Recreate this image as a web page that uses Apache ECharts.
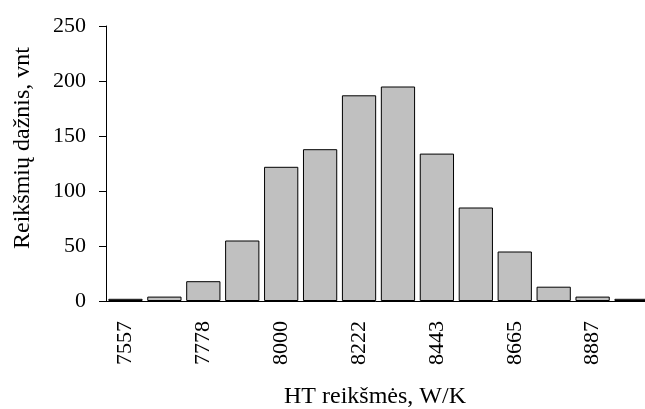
<!DOCTYPE html>
<html>
<head>
<meta charset="utf-8">
<script src="https://cdn.jsdelivr.net/npm/echarts@6/dist/echarts.min.js"></script>
<style>
  html, body { margin: 0; padding: 0; background: #fff; }
  #chart { width: 645px; height: 409px; }
</style>
</head>
<body>
<div id="chart"></div>
<script>
// histogram bins (bin centres, W/K) and counts
const bins = ['7557', '7668', '7778', '7889', '8000', '8111', '8222', '8332', '8443', '8554', '8665', '8776', '8887', '8997'];
const counts = [2, 4, 18, 55, 122, 138, 187, 195, 134, 85, 45, 13, 4, 2];
const yTicks = [0, 50, 100, 150, 200, 250];

const font = 'Liberation Serif';
let chart = echarts.init(document.getElementById('chart'));
chart.setOption({
    animation: false,
    grid: {
        left: 106,
        top: 26,
        bottom: 108,
        right: -6,
        outerBoundsMode: 'none'
    },
    xAxis: {
        type: 'category',
        data: bins,
        axisLine: { lineStyle: { color: '#000', width: 1 } },
        axisTick: { interval: 0, length: 7, lineStyle: { color: '#000' } },
        axisLabel: {
            interval: 1,
            rotate: 90,
            margin: 20,
            fontFamily: font,
            fontSize: 22,
            color: '#000'
        }
    },
    yAxis: {
        type: 'value',
        min: yTicks[0],
        max: yTicks[yTicks.length - 1],
        interval: 50,
        splitLine: { show: false },
        axisLine: { show: true, lineStyle: { color: '#000', width: 1 } },
        axisTick: { show: true, length: 7, lineStyle: { color: '#000' } },
        axisLabel: {
            margin: 20,
            fontFamily: font,
            fontSize: 22,
            color: '#000'
        }
    },
    graphic: [
        {
            type: 'text',
            x: 375,
            y: 397,
            style: {
                text: 'HT reikšmės, W/K',
                align: 'center',
                verticalAlign: 'middle',
                font: '24px "Liberation Serif"',
                fill: '#000'
            }
        },
        {
            type: 'text',
            x: 23,
            y: 148,
            rotation: Math.PI / 2,
            style: {
                text: 'Reikšmių dažnis, vnt',
                align: 'center',
                verticalAlign: 'middle',
                font: '24px "Liberation Serif"',
                fill: '#000'
            }
        }
    ],
    series: [
        {
            type: 'bar',
            data: counts,
            barCategoryGap: '12%',
            itemStyle: {
                color: '#c0c0c0',
                borderColor: '#000',
                borderWidth: 1
            }
        }
    ]
});
</script>
</body>
</html>
